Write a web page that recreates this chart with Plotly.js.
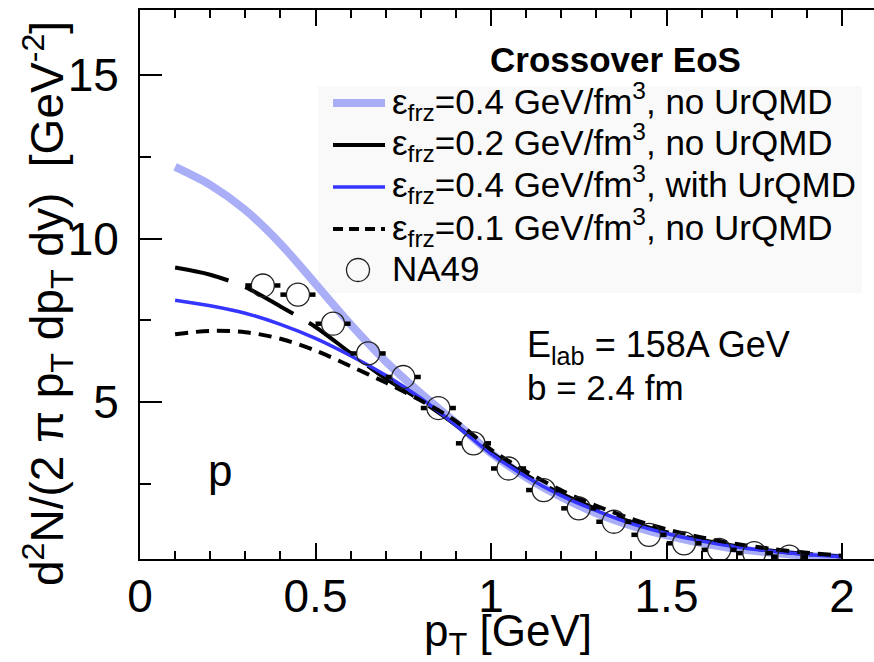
<!DOCTYPE html>
<html><head><meta charset="utf-8">
<script src="https://cdn.plot.ly/plotly-3.0.1.min.js"></script>
<style>html,body{margin:0;padding:0;background:#fff}#chart{width:874px;height:662px}</style>
</head><body><div id="chart"></div>
<script>
// ---- data ----
const pT = [0.1,0.2,0.3,0.4,0.5,0.6,0.7,0.8,0.9,1.0,1.1,1.2,1.3,1.4,1.5,1.6,1.7,1.8,1.9,2.0];
const eps04_noUrQMD   = [12.2,11.65,10.88,9.85,8.62,7.38,6.25,5.27,4.37,3.44,2.7,2.1,1.6,1.22,0.92,0.69,0.51,0.39,0.3,0.23];
const eps02_noUrQMD   = [9.12,8.9,8.52,7.93,7.3,6.5,5.72,5.05,4.3,3.46,2.77,2.2,1.73,1.33,1.02,0.78,0.59,0.45,0.35,0.28];
const eps04_withUrQMD = [8.12,7.95,7.72,7.38,6.95,6.42,5.82,5.12,4.3,3.42,2.72,2.14,1.68,1.28,0.98,0.75,0.57,0.44,0.34,0.27];
const eps01_noUrQMD   = [7.08,7.18,7.14,6.94,6.58,6.1,5.6,5.05,4.42,3.55,2.88,2.3,1.83,1.43,1.11,0.86,0.66,0.51,0.39,0.3];
const na49_pT    = [0.35,0.45,0.55,0.65,0.75,0.85,0.95,1.05,1.15,1.25,1.35,1.45,1.55,1.65,1.75,1.85];
const na49_yield = [8.57,8.29,7.40,6.49,5.77,4.82,3.74,2.97,2.31,1.75,1.34,0.94,0.68,0.48,0.38,0.27];
const na49_pTerr = [0.05,0.05,0.05,0.05,0.05,0.05,0.05,0.05,0.05,0.05,0.05,0.05,0.05,0.05,0.05,0.05];
const legendLabels = [
  'ε<sub>frz</sub>=0.4 GeV/fm<sup>3</sup>, no UrQMD',
  'ε<sub>frz</sub>=0.2 GeV/fm<sup>3</sup>, no UrQMD',
  'ε<sub>frz</sub>=0.4 GeV/fm<sup>3</sup>, with UrQMD',
  'ε<sub>frz</sub>=0.1 GeV/fm<sup>3</sup>, no UrQMD',
  'NA49'
];
const xTickVals = [0,0.5,1,1.5,2];
const xTickText = ['0','0.5','1','1.5','2'];
const yTickVals = [5,10,15];
const yTickText = ['5','10','15'];

// ---- geometry / style ----
const W=874,H=662,L=140,R=0,T=10,B=103;
const PW=W-L-R, PH=H-T-B;
const XPX=351;                 // pixels per GeV
const XMAX=PW/XPX;
const px = v => (v-L)/PW;
const py = v => (H-B-v)/PH;
const FONT='Liberation Sans, Arial, Helvetica, sans-serif';
const LB='#a9aef7', BLUE='#3535ff';
const MSIZE=23;
const mr = MSIZE/2/XPX;

const capX=[],capY=[];
na49_pT.forEach((x,i)=>{const e=na49_pTerr[i],y=na49_yield[i];
  capX.push(x-e,x-mr,null,x+mr,x+e,null); capY.push(y,y,null,y,y,null);});

const sp = {shape:'spline',smoothing:0.9};
const traces=[
  {x:pT,y:eps04_noUrQMD,mode:'lines',name:legendLabels[0],line:Object.assign({color:LB,width:8},sp)},
  {x:pT,y:eps02_noUrQMD,mode:'lines',name:legendLabels[1],line:Object.assign({color:'#000',width:4,dash:'55px,18px'},sp)},
  {x:pT,y:eps04_withUrQMD,mode:'lines',name:legendLabels[2],line:Object.assign({color:BLUE,width:3.5},sp)},
  {x:pT,y:eps01_noUrQMD,mode:'lines',name:legendLabels[3],line:Object.assign({color:'#000',width:4,dash:'13px,8px'},sp)},
  {x:capX,y:capY,mode:'lines',name:'NA49 errors',line:{color:'#000',width:4.5},hoverinfo:'skip'},
  {x:na49_pT,y:na49_yield,mode:'markers',name:legendLabels[4],marker:{symbol:'circle-open',size:MSIZE,color:'#222',line:{width:1.3,color:'#222'}}}
];

const tickCommon={ticks:'inside',tickwidth:2,tickcolor:'#000',showgrid:false,zeroline:false,
  tickfont:{family:FONT,size:46,color:'#000'}};
const layout={
  width:W,height:H,margin:{l:L,r:R,t:T,b:B,pad:0},
  paper_bgcolor:'#fff',plot_bgcolor:'rgba(0,0,0,0)',showlegend:false,
  font:{family:FONT,color:'#000'},
  xaxis:Object.assign({range:[0,XMAX],tickmode:'array',tickvals:xTickVals,ticktext:xTickText,
    ticklen:16,showline:true,linewidth:2,linecolor:'#000',mirror:'ticks',ticklabelstandoff:-4,
    minor:{dtick:0.1,tick0:0,ticklen:8,tickwidth:2,tickcolor:'#000',ticks:'inside'}},tickCommon),
  yaxis:Object.assign({range:[0.2,17],tickmode:'array',tickvals:yTickVals,ticktext:yTickText,
    ticklen:22,showline:true,linewidth:2,linecolor:'#000',ticklabelstandoff:10,
    minor:{dtick:2.5,tick0:0,ticklen:11,tickwidth:2,tickcolor:'#000',ticks:'inside'}},tickCommon),
  yaxis2:Object.assign({range:[0.2,17],overlaying:'y',side:'right',tickmode:'array',tickvals:yTickVals,
    ticklen:22,showline:false,showticklabels:false,
    minor:{dtick:2.5,tick0:0,ticklen:11,tickwidth:2,tickcolor:'#000',ticks:'inside'}},tickCommon),
  shapes:[
    {type:'rect',xref:'paper',yref:'paper',x0:px(318),x1:px(862),y0:py(293),y1:py(86),
      fillcolor:'#f9f9f9',line:{width:0},layer:'below'}
  ],
  annotations:[
    {text:'d<sup>2</sup>N/(2 π p<sub>T</sub> dp<sub>T</sub> dy)\u00a0\u00a0[GeV<sup>-2</sup>]',textangle:-90,
      xref:'paper',yref:'paper',x:px(48),y:py(304),xanchor:'center',yanchor:'middle',showarrow:false,
      font:{family:FONT,size:46,color:'#000'}},
    {text:'p<sub>T</sub> [GeV]',xref:'paper',yref:'paper',x:px(508),y:py(634),xanchor:'center',yanchor:'middle',
      showarrow:false,font:{family:FONT,size:44,color:'#000'}},
    {text:'<b>Crossover EoS</b>',xref:'paper',yref:'paper',x:px(615),y:py(60),xanchor:'center',yanchor:'middle',
      showarrow:false,font:{family:FONT,size:35,color:'#000'}},
    {text:'E<sub>lab</sub> = 158A GeV',xref:'paper',yref:'paper',x:px(525),y:py(347),xanchor:'left',yanchor:'middle',
      showarrow:false,font:{family:FONT,size:36,color:'#000'}},
    {text:'b = 2.4 fm',xref:'paper',yref:'paper',x:px(525),y:py(387),xanchor:'left',yanchor:'middle',
      showarrow:false,font:{family:FONT,size:35,color:'#000'}},
    {text:'p',xref:'paper',yref:'paper',x:px(220),y:py(470),xanchor:'center',yanchor:'middle',
      showarrow:false,font:{family:FONT,size:44,color:'#000'}}
  ]
};

// custom legend (positions in pixels of the page)
const rowY=[103,145,187,229,270];
const sampleStyles=[{color:LB,width:8},{color:'#000',width:4},{color:BLUE,width:3.5},{color:'#000',width:4,dash:'10px,6px'}];
sampleStyles.forEach((st,i)=>{
  layout.shapes.push({type:'line',xref:'paper',yref:'paper',x0:px(333),x1:px(385),y0:py(rowY[i]),y1:py(rowY[i]),line:st});
});
layout.shapes.push({type:'circle',xref:'paper',yref:'paper',xsizemode:'pixel',ysizemode:'pixel',
  xanchor:px(358),yanchor:py(rowY[4]),x0:-MSIZE/2,x1:MSIZE/2,y0:-MSIZE/2,y1:MSIZE/2,line:{color:'#222',width:1.3}});
legendLabels.forEach((t,i)=>{
  layout.annotations.push({text:t,xref:'paper',yref:'paper',x:px(390),y:py(rowY[i]-2),xanchor:'left',yanchor:'middle',
    showarrow:false,font:{family:FONT,size:35,color:'#000'}});
});

Plotly.newPlot('chart',traces,layout,{displayModeBar:false,staticPlot:true});
</script></body></html>
